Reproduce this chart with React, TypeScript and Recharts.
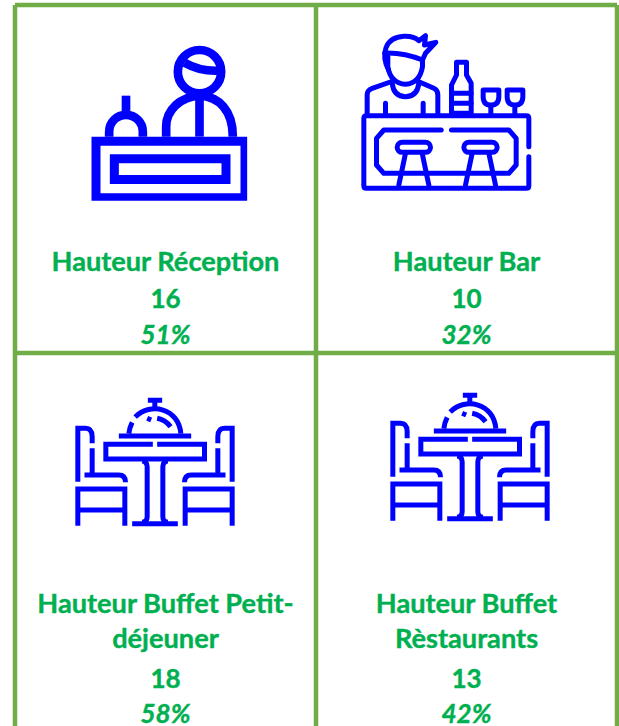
import React from 'react';
import { ScatterChart, Scatter, XAxis, YAxis, ReferenceLine } from 'recharts';

const titles = [
  ['Hauteur Réception'],
  ['Hauteur Bar'],
  ['Hauteur Buffet Petit-', 'déjeuner'],
  ['Hauteur Buffet', 'Rèstaurants'],
];
const counts = [16, 10, 18, 13];
const percents = [51, 32, 58, 42];
const columns = [0.5, 1.5, 0.5, 1.5];
const rows = [0, 0, 1, 1];

const cells = titles.map((title, i) => ({
  title,
  count: counts[i],
  percent: percents[i],
  col: columns[i],
  row: rows[i],
  icon: i,
}));

const BLUE = '#0000FF';
const GREEN = '#00B050';
const BORDER = '#70AD47';

const ReceptionIcon = () => (
  <g fill="none" stroke={BLUE} strokeWidth={26}>
    <path
      fill={BLUE}
      stroke="none"
      fillRule="evenodd"
      d="M63 320H530V512H63ZM90 347V490H510V347ZM118 373H480V462H118ZM145 400V435H453V400Z"
    />
    <circle cx={387} cy={125} r={65} />
    <path d="M342 98Q390 125 446 122" />
    <path d="M287 320V290C287 240 330 200 387 197C445 200 487 240 487 320" />
    <path d="M387 197V320" />
    <path d="M116 320V305A50 50 0 0 1 217 305V320" />
    <path d="M166.5 197V255" />
  </g>
);

const BarIcon = () => (
  <g fill="none" stroke={BLUE} strokeWidth={15} strokeLinecap="round" strokeLinejoin="round">
    <path d="M114 135C92 90 100 38 160 34C180 33 195 38 205 47L225 32L222 60L256 52L225 85L216 105" />
    <path d="M103 84Q160 82 216 105" />
    <path d="M112 95V125Q120 175 165 178Q208 175 216 125V105" />
    <path d="M50 265V210Q50 195 65 190L128 168" />
    <path d="M125 175Q130 215 165 215Q200 215 205 175" />
    <path d="M200 168L250 190Q262 195 262 210V265" />
    <path d="M105 235V265M218 235V265" />
    <path d="M318 112H348V150L362 175V265H303V180L318 150Z" />
    <path d="M303 205H362M303 235H362" />
    <path d="M398 195H445V215Q445 240 421 240Q398 240 398 215ZM421 240V265" />
    <path d="M470 195H517V215Q517 240 493 240Q470 240 470 215ZM493 240V265" />
    <path d="M535 365V280Q535 272 527 272H48Q40 272 40 280V482Q40 490 48 490H527Q535 490 535 482V395" />
    <path d="M272 315H100L78 340V420L100 445H475L497 420V340L475 315H303" />
    <rect x={140} y={352} width={100} height={30} rx={15} />
    <rect x={340} y={352} width={100} height={30} rx={15} />
    <path d="M165 385L145 480M215 385L235 480M365 385L345 480M415 385L435 480" />
  </g>
);

const Chair = () => (
  <g>
    <path d="M52 290V130H75Q95 130 95 155V175M95 190V270" />
    <path d="M72 270H175Q195 270 195 292" />
    <path d="M52 422V312H193V422" />
    <path d="M52 375H193" />
  </g>
);

const TableIcon = () => (
  <g fill="none" stroke={BLUE} strokeWidth={15}>
    <path d="M262 46H305M283 46V70" />
    <path d="M205 146Q207 128 215 112" />
    <path d="M224 96C270 50 355 70 361 146" />
    <path d="M260 100L272 105M290 100Q315 105 330 125" />
    <path d="M175 153H392" />
    <path d="M277 178H136V222H432V178H290" />
    <path d="M245 228Q260 230 260 245V395Q260 410 245 412M322 228Q307 230 307 245V395Q307 410 322 412" />
    <path d="M215 416H352" />
    <Chair />
    <g transform="translate(567 0) scale(-1 1)">
      <Chair />
    </g>
  </g>
);

const icons = [
  { Icon: ReceptionIcon, dx: -95, dy: 25 },
  { Icon: BarIcon, dx: -116, dy: 20 },
  { Icon: TableIcon, dx: -105, dy: 32 },
  { Icon: TableIcon, dx: -91, dy: 27 },
];

const CellShape = (props: any) => {
  const { cx, cy, payload } = props;
  const { Icon, dx, dy } = icons[payload.icon];
  const twoLines = payload.title.length > 1;
  const textProps = {
    textAnchor: 'middle' as const,
    fill: GREEN,
    stroke: GREEN,
    strokeWidth: 0.4,
    fontFamily: 'Lato, sans-serif',
    fontWeight: 700,
  };
  const firstBase = twoLines ? 260 : 266;
  const countBase = twoLines ? 335 : 303;
  const percentGap = twoLines ? 35 : 36;
  return (
    <g>
      <g transform={`translate(${cx + dx} ${cy + dy}) scale(${1 / 3})`}>
        <Icon />
      </g>
      {payload.title.map((line: string, i: number) => (
        <text key={line} x={cx} y={cy + firstBase + i * 35} fontSize={27.2} {...textProps}>
          {line}
        </text>
      ))}
      <text x={cx} y={cy + countBase} fontSize={26} {...textProps}>
        {payload.count}
      </text>
      <text x={cx} y={cy + countBase + percentGap} fontSize={26} fontStyle="italic" {...textProps}>
        {payload.percent}%
      </text>
    </g>
  );
};

export default function App() {
  return (
    <div style={{ position: 'absolute', left: 0, top: 0, background: '#fff' }}>
      <ScatterChart
        width={619}
        height={726}
        margin={{ top: 5, right: 2, bottom: 0, left: 15 }}
      >
        <XAxis type="number" dataKey="col" domain={[0, 2]} hide />
        <YAxis type="number" dataKey="row" domain={[0, 2.072]} reversed hide />
        {[0, 1, 2].map((x) => (
          <ReferenceLine key={x} x={x} stroke={BORDER} strokeWidth={4.5} />
        ))}
        {[0, 1].map((y) => (
          <ReferenceLine key={y} y={y} stroke={BORDER} strokeWidth={4.5} />
        ))}
        <Scatter data={cells} shape={CellShape} isAnimationActive={false} />
      </ScatterChart>
    </div>
  );
}
